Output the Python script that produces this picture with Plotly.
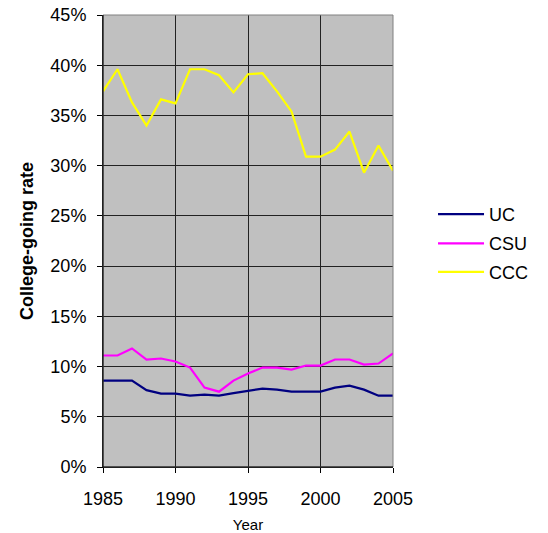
import plotly.graph_objects as go

YEARS = list(range(1985, 2006))

UC = [8.6, 8.6, 8.6, 7.65, 7.3, 7.3, 7.1, 7.2, 7.1, 7.35, 7.6,
      7.8, 7.7, 7.5, 7.5, 7.5, 7.9, 8.1, 7.7, 7.1, 7.1]
CSU = [11.1, 11.1, 11.8, 10.7, 10.8, 10.5, 9.9, 7.9, 7.5, 8.6, 9.3,
       9.9, 9.9, 9.7, 10.1, 10.1, 10.7, 10.7, 10.2, 10.3, 11.3]
CCC = [37.4, 39.6, 36.3, 34.0, 36.6, 36.2, 39.6, 39.6, 39.0, 37.3, 39.1,
       39.2, 37.4, 35.4, 30.9, 30.9, 31.6, 33.4, 29.3, 32.0, 29.5]

SERIES = [("UC", UC, "#000080"), ("CSU", CSU, "#FF00FF"), ("CCC", CCC, "#FFFF00")]
LEGEND_Y = [0.559, 0.494, 0.431]  # one legend per series, Excel-style spacing

fig = go.Figure()
for i, (name, vals, color) in enumerate(SERIES):
    fig.add_trace(go.Scatter(
        x=YEARS, y=[v / 100 for v in vals], mode="lines", name=name,
        line=dict(color=color, width=2.2),
        legend="legend" if i == 0 else f"legend{i + 1}",
    ))

_AXIS = dict(
    showgrid=True, gridcolor="#222222", gridwidth=1,
    showline=True, linecolor="#000000", linewidth=1,
    ticks="outside", ticklen=5, tickcolor="#000000",
    zeroline=False, tickfont=dict(size=18, color="#000000"),
    automargin=False,
)
_LEGEND = dict(x=1.138, yanchor="middle", xanchor="left", font=dict(size=18),
               itemwidth=46, bgcolor="rgba(0,0,0,0)")

fig.update_layout(
    width=548, height=533,
    paper_bgcolor="white", plot_bgcolor="#C0C0C0",
    font=dict(family="Liberation Sans, Arial, sans-serif", color="#000000"),
    margin=dict(l=103, r=155, t=15, b=66, autoexpand=False),
    xaxis=dict(**_AXIS, range=[1985, 2005], dtick=5, tick0=1985, ticklabelstandoff=10,
               title=dict(text="Year", font=dict(size=15), standoff=13)),
    yaxis=dict(**_AXIS, range=[0, 0.45], dtick=0.05, tickformat=".0%", ticklabelstandoff=7,
               title=dict(text="<b>College-going rate</b>", font=dict(size=18), standoff=12)),
    legend=dict(**_LEGEND, y=LEGEND_Y[0]),
    legend2=dict(**_LEGEND, y=LEGEND_Y[1]),
    legend3=dict(**_LEGEND, y=LEGEND_Y[2]),
    showlegend=True,
)

# gray frame on top/right like the original chart area border
fig.add_shape(type="rect", xref="paper", yref="paper", x0=0, y0=0, x1=1, y1=1,
              line=dict(color="#808080", width=1), layer="above")
fig.add_shape(type="line", xref="paper", yref="paper", x0=0, y0=0, x1=0, y1=1,
              line=dict(color="#000000", width=1), layer="above")
fig.add_shape(type="line", xref="paper", yref="paper", x0=0, y0=0, x1=1, y1=0,
              line=dict(color="#000000", width=1), layer="above")

# drop the default 8px page margin so the chart sits at the window's corner
fig.write_html("out.html", config={"displayModeBar": False},
               post_script="document.body.style.margin='0';")
